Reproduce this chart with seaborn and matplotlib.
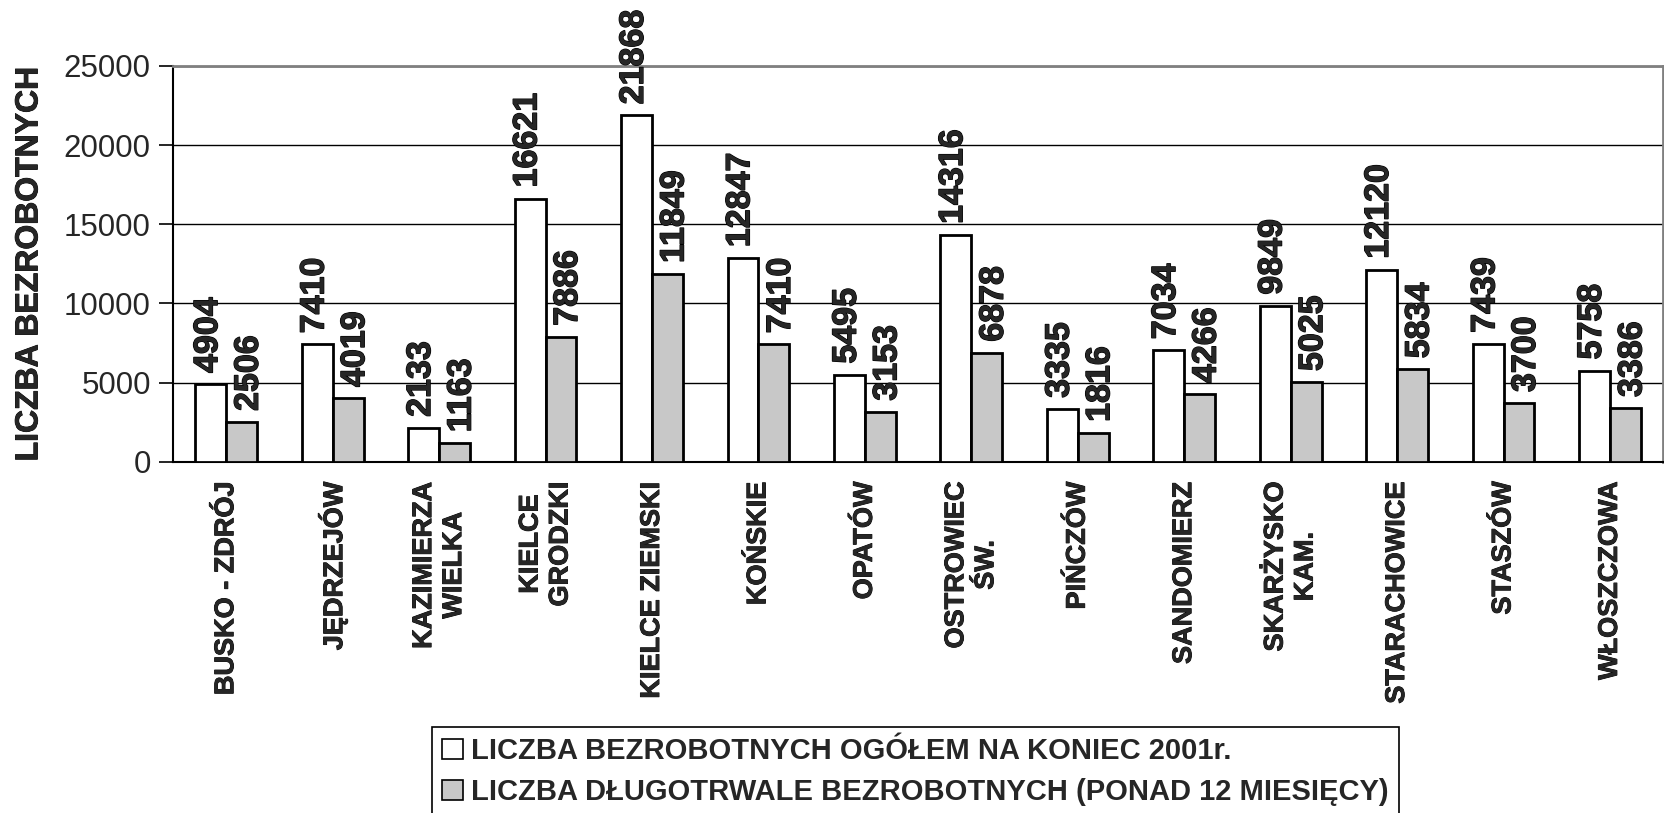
import matplotlib
matplotlib.use("Agg")
import matplotlib.pyplot as plt
import matplotlib.patheffects as pe
import seaborn as sns
import pandas as pd
import numpy as np
from matplotlib.patches import Patch
from matplotlib.ticker import FixedLocator
from matplotlib.font_manager import FontProperties

categories = ["BUSKO - ZDRÓJ", "JĘDRZEJÓW", "KAZIMIERZA\nWIELKA", "KIELCE\nGRODZKI",
              "KIELCE ZIEMSKI", "KOŃSKIE", "OPATÓW", "OSTROWIEC\nŚW.", "PIŃCZÓW",
              "SANDOMIERZ", "SKARŻYSKO\nKAM.", "STARACHOWICE", "STASZÓW", "WŁOSZCZOWA"]
total = [4904, 7410, 2133, 16621, 21868, 12847, 5495, 14316, 3335, 7034, 9849, 12120, 7439, 5758]
longterm = [2506, 4019, 1163, 7886, 11849, 7410, 3153, 6878, 1816, 4266, 5025, 5834, 3700, 3386]
series = ["LICZBA BEZROBOTNYCH OGÓŁEM NA KONIEC 2001r.",
          "LICZBA DŁUGOTRWALE BEZROBOTNYCH (PONAD 12 MIESIĘCY)"]
yticks = [0, 5000, 10000, 15000, 20000, 25000]

df = pd.DataFrame({
    "cat": categories * 2,
    "val": total + longterm,
    "series": [series[0]] * len(categories) + [series[1]] * len(categories),
})

sns.set_style("white")
plt.rcParams['font.family'] = ['Liberation Sans', 'DejaVu Sans']

heavy = [pe.withStroke(linewidth=0.9, foreground="black")]

fig = plt.figure(figsize=(16.64, 8.13), dpi=100)
ax = fig.add_axes([0.104, 0.432, 0.8955, 0.487])

colors = ["white", "#c8c8c8"]
sns.barplot(data=df, x="cat", y="val", hue="series", hue_order=series,
            palette=colors, width=0.58, edgecolor="black", linewidth=2,
            saturation=1, ax=ax, legend=False, zorder=3)

bold_fp = FontProperties(family="Liberation Sans", weight="bold", size=24.5)
x_shift = [-1.5, 5.5]
for k, cont in enumerate(ax.containers):
    for p in cont.patches:
        h = p.get_height()
        ax.annotate(f"{int(round(h))}", xy=(p.get_x() + p.get_width() / 2, h),
                    xytext=(x_shift[k], 8), textcoords="offset points", rotation=90,
                    ha="center", va="bottom", fontproperties=bold_fp,
                    annotation_clip=False, clip_on=False, path_effects=heavy)

ax.set_ylim(0, 25000)
ax.set_xlim(-0.5, len(categories) - 0.5)
ax.set_yticks(yticks)
ax.set_yticklabels([str(v) for v in yticks], fontsize=22.5)
ax.yaxis.grid(True, color="black", linewidth=1)
ax.set_axisbelow(True)

ax.set_xticks(range(len(categories)))
ax.set_xticklabels(categories, rotation=90, fontsize=19.5, fontweight="bold",
                   ha="center", va="top", multialignment="center")
for t in ax.get_xticklabels():
    t.set_path_effects([pe.withStroke(linewidth=0.6, foreground="black")])
ax.tick_params(axis="x", which="major", length=0, pad=14)
ax.xaxis.set_minor_locator(FixedLocator(np.arange(-0.5, len(categories), 1.0)))
ax.tick_params(axis="x", which="minor", length=8, width=1.2, direction="out", color="black")
ax.tick_params(axis="y", length=10, width=1.2, direction="out", color="black", left=True, pad=6)

ax.set_xlabel("")
ax.set_ylabel("LICZBA BEZROBOTNYCH", fontsize=23, fontweight="bold", labelpad=14,
              path_effects=[pe.withStroke(linewidth=0.6, foreground="black")])

for s in ["left", "bottom"]:
    ax.spines[s].set_color("black")
    ax.spines[s].set_linewidth(1.5)
ax.spines["top"].set_color("#808080")
ax.spines["top"].set_linewidth(2)
ax.spines["right"].set_color("#808080")
ax.spines["right"].set_linewidth(2)

handles = [Patch(facecolor=c, edgecolor="black", linewidth=1.2) for c in colors]
leg = fig.legend(handles, series, loc="upper left", bbox_to_anchor=(432 / 1664, 1 - 727 / 813),
                 frameon=True, fancybox=False, edgecolor="black", framealpha=1,
                 prop={"weight": "bold", "size": 21}, handlelength=0.7, handleheight=0.7,
                 handletextpad=0.3, borderpad=0.35, labelspacing=0.45, borderaxespad=0)
leg.get_frame().set_linewidth(1.2)

fig.savefig("out.png", dpi=100)
